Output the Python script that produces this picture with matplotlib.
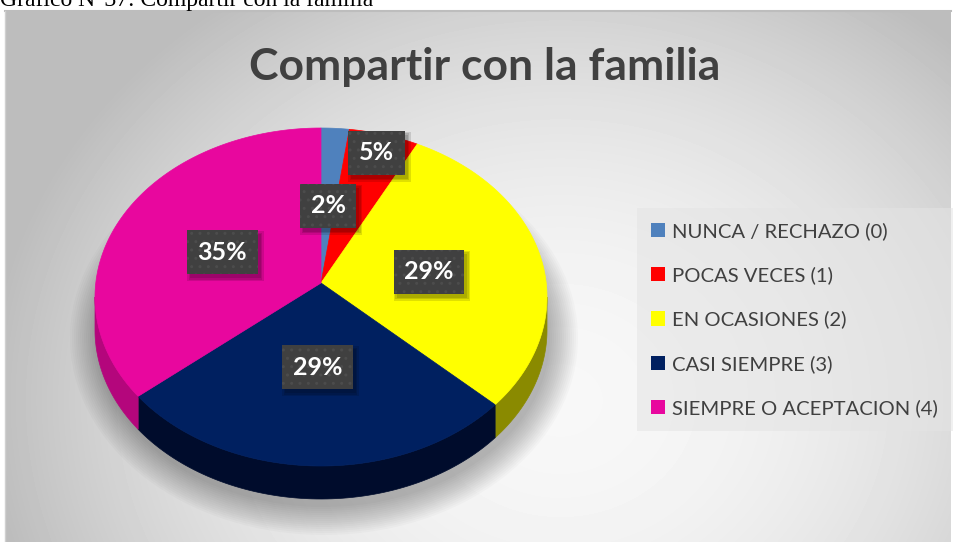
"""
3D-style pie: Compartir con la familia.
"""

import numpy as np
import matplotlib.pyplot as plt
from matplotlib.patches import Polygon, Ellipse, Patch, Rectangle

categories = ["NUNCA / RECHAZO (0)", "POCAS VECES (1)", "EN OCASIONES (2)",
              "CASI SIEMPRE (3)", "SIEMPRE O ACEPTACION (4)"]
percent = [2, 5, 29, 29, 35]
title = "Compartir con la familia"
caption = "Gráfico N°37: Compartir con la familia"

top_colors = ["#4F81BD", "#FF0000", "#FFFF00", "#002060", "#E8079E"]
side_colors = ["#3A6391", "#B00000", "#8A8A00", "#000C2C", "#B4067C"]

W, H = 954, 542
fig = plt.figure(figsize=(W / 100, H / 100), dpi=100)
ax = fig.add_axes([0, 0, 1, 1])

# gray radial gradient behind the chart area
x0, x1, y0, y1 = 5, 951, 11, 542
gx, gy = np.meshgrid(np.arange(x0, x1), np.arange(y0, y1))
d2 = ((gx - 560) / 560.0) ** 2 + ((gy - 400) / 480.0) ** 2
shade = np.clip(0.97 - 0.22 * d2, 0.74, 1.0)
ax.imshow(shade, cmap="gray", vmin=0, vmax=1, extent=(x0, x1, y1, y0),
          interpolation="bilinear", zorder=0)
ax.plot([x0, x1], [y0, y0], color="#BDBDBD", lw=1.5, zorder=1)
ax.plot([x0, x0], [y0, y1], color="#D0D0D0", lw=1.0, zorder=1)

ax.set_aspect("auto")
ax.set_xlim(0, W)
ax.set_ylim(H, 0)
ax.axis("off")

# pie geometry (pixels)
cx, cy, rx, ry = 321, 297, 226, 169
apex = (321, 283)
depth = 33

def arc(t):
    r = np.radians(t)
    return np.column_stack([cx + rx * np.cos(r), cy - ry * np.sin(r)])

# soft shadow under the pie
for e in range(0, 30, 2):
    ax.add_patch(Ellipse((cx + 3, cy + depth + 8), 2 * (rx + e), 2 * (ry + e),
                         color="black", alpha=0.018, lw=0, zorder=2))

bounds = 90 - 360 * np.concatenate([[0], np.cumsum(percent)]) / 100.0

# side walls (front half only)
for i in range(len(percent)):
    a0, a1 = bounds[i], bounds[i + 1]
    for k in (-360, 0, 360):
        lo, hi = max(a1, -180 + k), min(a0, k)
        if lo < hi:
            top = arc(np.linspace(hi, lo, 80))
            bot = top[::-1] + [0, depth]
            ax.add_patch(Polygon(np.vstack([top, bot]), closed=True,
                                 fc=side_colors[i], ec=side_colors[i], lw=0.5, zorder=3))

# top faces
for i in range(len(percent)):
    pts = np.vstack([[apex], arc(np.linspace(bounds[i], bounds[i + 1], 120))])
    ax.add_patch(Polygon(pts, closed=True, fc=top_colors[i], ec=top_colors[i],
                         lw=0.5, zorder=4))

# data labels
plt.rcParams["hatch.linewidth"] = 1.0
frac = [0.5, 0.88, 0.49, 0.46, 0.49]
mid = (bounds[:-1] + bounds[1:]) / 2
labels = []
for i, p in enumerate(percent):
    rim = arc(np.array([mid[i]]))[0]
    lx = apex[0] + frac[i] * (rim[0] - apex[0])
    ly = apex[1] + frac[i] * (rim[1] - apex[1])
    t = ax.text(lx, ly, f"{p}%", ha="center", va="center", fontsize=18,
                fontweight="bold", family="Lato", color="white", zorder=6,
                bbox=dict(boxstyle="square,pad=0.42", fc="#404040", ec="#4C4C4C",
                          lw=0, hatch=".."))
    labels.append(t)

ax.text(485, 80, title, ha="center", va="baseline", fontsize=32,
        fontweight="bold", family="Lato", color="#404040", zorder=6)

ax.text(0, 6, caption, ha="left", va="baseline", fontsize=17,
        family="Liberation Serif", color="black", zorder=6)

handles = [Patch(fc=c, ec="none") for c in top_colors]
leg = ax.legend(handles, categories, loc="upper left",
                bbox_to_anchor=(637 / W, 1 - 208 / H), borderaxespad=0,
                prop={"family": "Lato", "size": 14.6}, labelcolor="#404040",
                frameon=True, fancybox=False, facecolor="#E4E4E4", edgecolor="none",
                framealpha=0.55, labelspacing=1.3, handlelength=0.7,
                handleheight=0.7, handletextpad=0.35, borderpad=0.7)

# soft drop shadows behind the label boxes
fig.canvas.draw()
rend = fig.canvas.get_renderer()
inv = ax.transData.inverted()
for t in labels:
    bb = t.get_bbox_patch().get_window_extent(rend)
    (xa, ya), (xb, yb) = inv.transform([[bb.x0, bb.y0], [bb.x1, bb.y1]])
    bx, by, bw, bh = min(xa, xb), min(ya, yb), abs(xb - xa), abs(yb - ya)
    for g in (0, 1.5, 3):
        ax.add_patch(Rectangle((bx + 3 - g, by + 4 - g), bw + 2 * g, bh + 2 * g,
                               fc="black", alpha=0.12, lw=0, zorder=5))

fig.savefig("out.png", dpi=100)
